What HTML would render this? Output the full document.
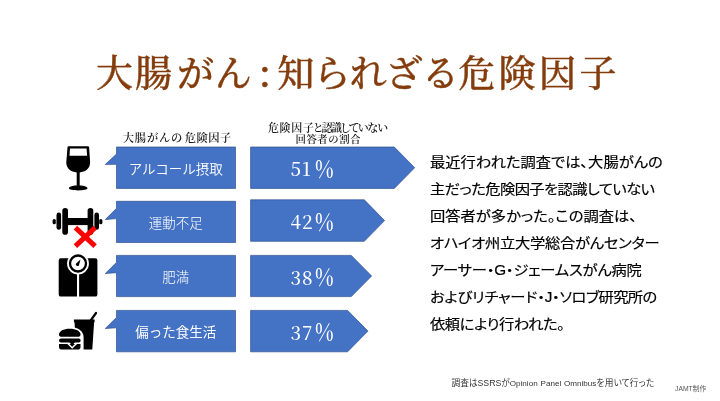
<!DOCTYPE html>
<html lang="ja">
<head>
<meta charset="utf-8">
<title>大腸がん：知られざる危険因子</title>
<style>
html,body{margin:0;padding:0;background:#fff;}
body{width:720px;height:401px;position:relative;overflow:hidden;}
#shapes{position:absolute;left:0;top:0;width:720px;height:401px;}
.t{position:absolute;white-space:nowrap;line-height:1;margin:0;padding:0;}
.serif{font-family:"Liberation Serif","Noto Serif CJK SC",serif;}
.mincho{font-family:"Noto Serif CJK SC","Liberation Serif",serif;}
.sans{font-family:"Liberation Sans","Noto Sans CJK JP",sans-serif;}
.goth{font-family:"Liberation Sans","Noto Sans CJK JP",sans-serif;}
#title{left:95.9px;top:52.6px;font-size:37px;color:#843C0C;font-weight:500;-webkit-text-stroke:0.4px #843C0C;}
.hd{font-size:12px;font-weight:600;color:#1a1a1a;}
.lab{color:#fff;font-size:13.5px;font-weight:350;text-align:center;left:115.8px;width:120px;}
.pct{color:#fff;font-size:18.7px;left:290.5px;height:24px;line-height:24px;font-family:"Noto Serif CJK SC","Liberation Serif",serif;letter-spacing:0.8px;font-weight:500;}
.d{display:inline-block;width:22.4px;white-space:nowrap;}
.pc{display:inline-block;font-size:24.6px;font-weight:600;letter-spacing:0;transform:scaleX(0.8);transform-origin:0 50%;margin-left:2.2px;vertical-align:baseline;position:relative;top:1.3px;}
.body{left:430px;font-size:15.3px;color:#000;font-weight:400;-webkit-text-stroke:0.2px #000;font-feature-settings:"palt";transform:scaleY(0.91);transform-origin:0 50%;}
#foot{left:451.5px;top:378.5px;font-size:8.7px;color:#333;font-feature-settings:"palt";}
#jamt{left:675px;top:385.5px;font-size:6.8px;color:#555;}
</style>
</head>
<body>
<svg id="shapes" viewBox="0 0 720 401" width="720" height="401">
  <g fill="#4472C4" stroke="#2F528F" stroke-width="0.7" stroke-linejoin="miter">
    <!-- callouts -->
    <polygon points="116.5,147 235.5,147 235.5,188.4 116.5,188.4 116.5,164.3 105.3,164.4 116.5,154"/>
    <polygon points="116.5,201.3 235.5,201.3 235.5,242.5 116.5,242.5 116.5,218.6 105.3,219.6 116.5,208.3"/>
    <polygon points="116.5,255.4 235.5,255.4 235.5,296.6 116.5,296.6 116.5,272.7 105.3,273.5 116.5,262.4"/>
    <polygon points="116.5,310.4 235.5,310.4 235.5,351.8 116.5,351.8 116.5,327.8 105.3,328.5 116.5,317.4"/>
    <!-- pentagons -->
    <polygon points="250.6,147 394.3,147 414.7,167.7 394.3,188.4 250.6,188.4"/>
    <polygon points="250.6,199.8 364.3,199.8 384.6,220.6 364.3,241.3 250.6,241.3"/>
    <polygon points="250.6,255.4 351.3,255.4 371.6,276 351.3,296.6 250.6,296.6"/>
    <polygon points="250.6,310.4 347.6,310.4 368,331.1 347.6,351.8 250.6,351.8"/>
  </g>

  <!-- wine glass -->
  <g id="ic1">
    <path fill="#000" d="M68.6,146.2 H88 Q89,146.2 89.1,147.2 L90.1,162 C90.4,168.5 85.2,172 79.7,172.4 V185.4 C84.2,185.6 87.5,186.8 87.5,188.3 C87.5,189.7 83.2,190.4 78.2,190.4 C73.2,190.4 68.9,189.7 68.9,188.3 C68.9,186.8 72.2,185.6 76.7,185.4 V172.4 C71.2,172 66,168.5 66.3,162 L67.5,147.2 Q67.6,146.2 68.6,146.2 Z"/>
    <path fill="#fff" d="M70,148.5 H86.6 L87.1,155.7 H69.5 Z"/>
  </g>
  <!-- dumbbell -->
  <g id="ic2" fill="#000">
    <rect x="52.6" y="218.9" width="3.2" height="5.3" rx="1.5"/>
    <rect x="99.2" y="218.9" width="3.2" height="5.3" rx="1.5"/>
    <rect x="56.5" y="212.6" width="4.6" height="17.1" rx="2.3"/>
    <rect x="94.4" y="212.6" width="4.6" height="17.1" rx="2.3"/>
    <rect x="62.3" y="208" width="5.7" height="26.7" rx="2.8"/>
    <rect x="87.6" y="208" width="5.7" height="26.7" rx="2.8"/>
    <rect x="66" y="218" width="24" height="7.1"/>
  </g>
  <g id="ic2x" stroke="#FF0000" stroke-width="5" fill="none">
    <line x1="75.4" y1="227.7" x2="95.1" y2="246.1"/>
    <line x1="95.1" y1="227.7" x2="75.4" y2="246.1"/>
  </g>
  <!-- scale -->
  <g id="ic3">
    <rect x="58.7" y="258.2" width="38.7" height="38.4" rx="2.2" fill="#000"/>
    <circle cx="78" cy="263.5" r="10.9" fill="#fff"/>
    <rect x="77" y="270" width="2.1" height="27" fill="#fff"/>
    <circle cx="78" cy="263.5" r="8" fill="#fff" stroke="#000" stroke-width="2.3"/>
    <path fill="#000" d="M80.5,259.4 L79,264.9 A1.6,1.6 0 1 1 76.4,263.2 Z"/>
  </g>
  <!-- fast food -->
  <g id="ic4">
    <path fill="#000" d="M73.9,319.5 H94.6 V322.3 H94.1 L92.3,349.4 H76.3 L74.5,322.3 H73.9 Z"/>
    <line x1="91" y1="320" x2="96" y2="313" stroke="#000" stroke-width="2.2" stroke-linecap="round"/>
    <path fill="#fff" d="M57,351.5 V337 C57,331 62,326.9 69.75,326.9 C77.5,326.9 83.6,331 83.6,337 V351.5 Z"/>
    <path fill="#000" d="M59,334.6 C59,331 63.5,328.7 69.75,328.7 C76,328.7 80.5,331 80.5,334.6 C80.5,336 79.8,336.7 78.6,336.7 H60.9 C59.7,336.7 59,336 59,334.6 Z"/>
    <rect x="59" y="338.4" width="21.6" height="4" rx="2" fill="#000"/>
    <path fill="#000" d="M59,343.9 H80.5 V347 C80.5,348.7 79.4,349.6 77.9,349.6 H61.6 C60.1,349.6 59,348.7 59,347 Z"/>
    <path fill="#000" d="M69.2,341.8 H75.2 L72.2,345.8 Z"/>
    <polyline points="67.6,343.3 72.2,347.7 76.8,343.3" fill="none" stroke="#fff" stroke-width="1.5"/>
  </g>
</svg>

<div id="title" class="t mincho"><span style="letter-spacing:2.1px">大腸</span><span style="letter-spacing:0.9px;margin-left:2.8px">がん</span><span style="letter-spacing:6.3px;margin-left:6.1px">:</span><span style="letter-spacing:-0.82px">知られざる</span><span style="letter-spacing:3.43px">危険因子</span></div>

<div class="t mincho hd" id="h1" style="left:122.8px;top:131.6px;font-size:11.3px;"><span id="h1a" style="letter-spacing:0.75px">大腸がんの</span><span id="h1b" style="letter-spacing:0.5px;margin-left:1.6px">危険因子</span></div>
<div class="t mincho hd" id="h2" style="left:267.9px;top:122px;font-size:11px;font-feature-settings:'palt';"><span id="h2a" style="letter-spacing:0.7px">危険因子</span><span id="h2b" style="letter-spacing:-1.4px;margin-left:-1.2px">と認識していない</span></div>
<div class="t mincho hd" id="h3" style="left:295.4px;top:134.4px;font-size:10.4px;letter-spacing:0.6px;">回答者の割合</div>

<div class="t goth lab" id="l1" style="top:162.8px;">アルコール摂取</div>
<div class="t goth lab" id="l2" style="top:216.8px;font-weight:300;">運動不足</div>
<div class="t goth lab" id="l3" style="top:270.8px;font-weight:300;">肥満</div>
<div class="t goth lab" id="l4" style="top:325.8px;font-weight:400;">偏った食生活</div>

<div class="t serif pct" id="p1" style="top:154.3px;"><span class="d" id="d1">51</span><span class="pc" id="c1">%</span></div>
<div class="t serif pct" id="p2" style="top:207.4px;"><span class="d" id="d2">42</span><span class="pc" id="c2">%</span></div>
<div class="t serif pct" id="p3" style="top:262.6px;"><span class="d" id="d3">38</span><span class="pc" id="c3">%</span></div>
<div class="t serif pct" id="p4" style="top:317.7px;"><span class="d" id="d4">37</span><span class="pc" id="c4">%</span></div>

<div class="t goth body" id="b1" style="top:153.5px;">最近行われた調査では、大腸がんの</div>
<div class="t goth body" id="b2" style="letter-spacing:-0.59px;top:180.5px;">主だった危険因子を認識していない</div>
<div class="t goth body" id="b3" style="top:207.5px;">回答者が多かった。この調査は、</div>
<div class="t goth body" id="b4" style="letter-spacing:-0.27px;top:234.5px;">オハイオ州立大学総合がんセンター</div>
<div class="t goth body" id="b5" style="letter-spacing:-0.20px;top:261.5px;">アーサー・G・ジェームスがん病院</div>
<div class="t goth body" id="b6" style="top:288.5px;"><span style="letter-spacing:-0.2px">およびリチャード・J・</span><span style="letter-spacing:-0.65px">ソロブ研究所の</span></div>
<div class="t goth body" id="b7" style="letter-spacing:-0.43px;top:315.5px;">依頼により行われた。</div>

<div class="t goth" id="foot">調査はSSRSが<span id="f4" style="font-size:8.1px;letter-spacing:0px;word-spacing:0.6px">Opinion Panel Omnibus</span><span id="f5" style="letter-spacing:0.2px">を用いて行った</span></div>
<div class="t goth" id="jamt">JAMT制作</div>
</body>
</html>
